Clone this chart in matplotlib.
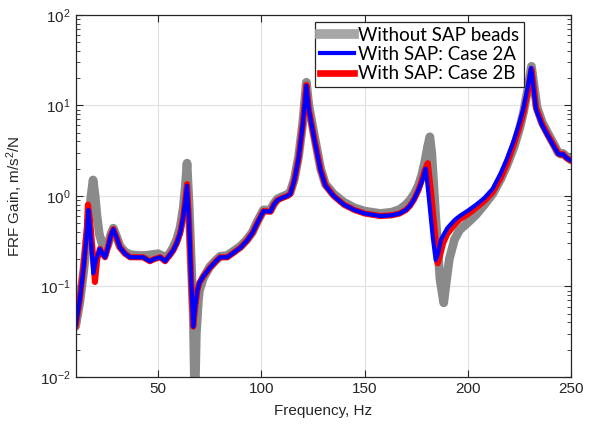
import matplotlib
matplotlib.use('Agg')
import matplotlib.pyplot as plt
from matplotlib.lines import Line2D

# Data
# Without SAP beads
f_gray = [10, 12, 14, 16, 17.5, 18.5, 19.5, 20.4, 21.5, 23, 24.3, 25.7, 27, 28.3, 30, 31.5,
          34, 36.4, 40, 44, 47, 50, 53.4, 55.5, 57.3, 59, 60.7, 62.2, 63.2, 64, 65, 66, 67,
          67.8, 68.5, 69.5, 70, 72, 75, 78, 80, 83.5, 87, 90, 93, 95.7, 98, 101, 104.4, 106,
          107.8, 110, 112.6, 114, 116, 118, 120, 121.8, 123, 125.4, 128.7, 131, 135, 140, 145,
          150, 157.5, 163, 167, 170, 172, 174, 176, 177.5, 179, 180.5, 181.6, 182.5, 183.5,
          184.5, 185.5, 186.5, 188.3, 189.5, 191, 193.5, 196, 200.5, 204, 208, 212, 216, 219,
          222.4, 225, 227, 229, 230.8, 232.3, 233.5, 236, 239, 242, 243.8, 245, 246, 248, 250]
gain_gray = [0.036, 0.065, 0.15, 0.4, 1.0, 1.5, 1.0, 0.6, 0.38, 0.29, 0.26, 0.29, 0.37, 0.44,
             0.35, 0.28, 0.24, 0.225, 0.22, 0.22, 0.225, 0.23, 0.21, 0.23, 0.27, 0.33, 0.45,
             0.75, 1.3, 2.3, 0.8, 0.2, 0.05, 0.005, 0.03, 0.07, 0.09, 0.125, 0.165, 0.195,
             0.215, 0.22, 0.25, 0.28, 0.33, 0.4, 0.52, 0.7, 0.7, 0.82, 0.93, 0.98, 1.04, 1.1,
             1.55, 2.7, 6.3, 18, 10, 5.0, 2.0, 1.35, 1.05, 0.85, 0.74, 0.68, 0.64, 0.66, 0.71,
             0.8, 0.9, 1.05, 1.3, 1.65, 2.3, 3.5, 4.5, 3.0, 1.3, 0.55, 0.25, 0.12, 0.066, 0.11,
             0.2, 0.33, 0.42, 0.52, 0.62, 0.8, 1.05, 1.55, 2.2, 3.5, 5.5, 8.5, 15, 27, 15, 9.5,
             6.5, 4.8, 3.6, 3.0, 2.9, 2.95, 2.7, 2.5]

# With SAP: Case 2A
f_2a = [10, 12, 14, 15.5, 16.2, 17, 18.6, 20, 21.8, 23, 24.3, 25.7, 27, 28.3, 30, 31.5, 34,
        36.4, 40, 42.7, 46, 48, 51, 53.4, 55.5, 57.3, 59, 60.7, 62.2, 63.2, 64, 65, 66, 67,
        68, 69, 70, 72, 75, 78, 80, 83.5, 87, 90, 93, 95.7, 98, 101, 104.4, 106, 107.8, 110,
        112.6, 114, 116, 118, 120, 121.8, 123, 125.4, 128.7, 131, 135, 140, 145, 150, 157.5,
        163, 167, 170, 172, 174, 176, 177.5, 179, 179.6, 181, 183, 184.4, 185.5, 187, 190,
        193.5, 196, 200.5, 204, 208, 212, 216, 219, 222.4, 225, 227, 229, 230.6, 232, 233,
        236, 239, 242, 243.8, 245, 246, 248, 250]
gain_2a = [0.036, 0.07, 0.17, 0.4, 0.7, 0.45, 0.14, 0.2, 0.26, 0.23, 0.21, 0.27, 0.36, 0.43,
           0.34, 0.27, 0.23, 0.21, 0.21, 0.21, 0.19, 0.2, 0.21, 0.19, 0.22, 0.25, 0.3, 0.39,
           0.6, 0.9, 1.3, 0.5, 0.12, 0.036, 0.06, 0.09, 0.11, 0.13, 0.16, 0.19, 0.21, 0.21,
           0.24, 0.27, 0.32, 0.39, 0.5, 0.68, 0.67, 0.8, 0.9, 0.95, 1.0, 1.05, 1.5, 2.6, 6.0,
           16.5, 9.0, 4.5, 1.9, 1.3, 1.0, 0.8, 0.7, 0.64, 0.6, 0.61, 0.64, 0.7, 0.78, 0.92,
           1.15, 1.4, 1.8, 2.0, 1.0, 0.35, 0.196, 0.23, 0.33, 0.44, 0.54, 0.6, 0.7, 0.8, 0.95,
           1.2, 1.8, 2.6, 4.2, 6.5, 9.5, 16, 26, 14, 9.0, 6.0, 4.5, 3.4, 2.9, 2.85, 2.9, 2.6,
           2.45]

# With SAP: Case 2B
f_2b = [10, 12, 14, 15.5, 16, 17, 18.6, 19.4, 20.5, 21.8, 23, 24.3, 25.7, 27, 28.3, 30, 31.5,
        34, 36.4, 40, 42.7, 46, 48, 51, 53.4, 55.5, 57.3, 59, 60.7, 62.2, 63.2, 64, 65, 66,
        67, 68, 69, 70, 72, 75, 78, 80, 83.5, 87, 90, 93, 95.7, 98, 101, 104.4, 106, 107.8,
        110, 112.6, 114, 116, 118, 120, 121.8, 123, 125.4, 128.7, 131, 135, 140, 145, 150,
        157.5, 163, 167, 170, 172, 174, 176, 177.5, 179, 180.6, 182, 184, 185.4, 186.5, 188,
        190, 193.5, 196, 200.5, 204, 208, 212, 216, 219, 222.4, 225, 227, 229, 230.8, 232,
        233, 236, 239, 242, 243.8, 245, 246, 248, 250]
gain_2b = [0.036, 0.07, 0.18, 0.45, 0.8, 0.55, 0.2, 0.112, 0.2, 0.26, 0.23, 0.21, 0.27, 0.36,
           0.43, 0.34, 0.27, 0.23, 0.21, 0.21, 0.21, 0.19, 0.2, 0.21, 0.19, 0.22, 0.25, 0.3,
           0.39, 0.6, 0.92, 1.35, 0.5, 0.12, 0.036, 0.06, 0.09, 0.11, 0.13, 0.16, 0.19, 0.21,
           0.21, 0.24, 0.27, 0.32, 0.39, 0.5, 0.68, 0.67, 0.8, 0.9, 0.95, 1.0, 1.05, 1.5, 2.6,
           6.0, 16.8, 9.0, 4.6, 1.95, 1.32, 1.0, 0.8, 0.7, 0.64, 0.6, 0.61, 0.64, 0.7, 0.78,
           0.92, 1.15, 1.45, 1.9, 2.3, 1.2, 0.4, 0.18, 0.22, 0.3, 0.38, 0.48, 0.55, 0.64, 0.74,
           0.88, 1.1, 1.6, 2.3, 3.8, 5.8, 8.5, 14, 25, 15, 9.5, 6.2, 4.6, 3.5, 2.95, 2.85,
           2.9, 2.6, 2.45]

labels = ['Without SAP beads', 'With SAP: Case 2A', 'With SAP: Case 2B']

plt.rcParams['font.family'] = ['Liberation Sans', 'DejaVu Sans']
plt.rcParams['mathtext.fontset'] = 'custom'
plt.rcParams['mathtext.rm'] = 'Liberation Sans'
plt.rcParams['mathtext.it'] = 'Liberation Sans'

fig = plt.figure(figsize=(5.9, 4.25), dpi=100)
ax = fig.add_axes([0.128, 0.113, 0.840, 0.852])

line_kw = dict(solid_joinstyle='round', solid_capstyle='round')
ax.plot(f_gray, gain_gray, color='#8a8a8a', lw=6.3, **line_kw)
ax.plot(f_2b, gain_2b, color='#ff0000', lw=4.4, **line_kw)
ax.plot(f_2a, gain_2a, color='#0000ff', lw=3.0, **line_kw)

ax.set_yscale('log')
ax.set_xlim(10, 250)
ax.set_ylim(1e-2, 1e2)
ax.set_xticks([50, 100, 150, 200, 250])

ax.grid(True, which='major', color='#e0e0e0', lw=0.8)
ax.set_axisbelow(True)
ax.tick_params(which='both', direction='in', top=True, right=True, colors='#262626',
               labelsize=11)
ax.tick_params(which='major', length=5)
ax.tick_params(which='minor', length=3)
for s in ax.spines.values():
    s.set_color('#262626')
    s.set_linewidth(0.9)

ax.set_xlabel('Frequency, Hz', fontsize=11, color='#262626', labelpad=6)
ax.set_ylabel('FRF Gain, m/s$^2$/N', fontsize=11, color='#262626', labelpad=11)

handles = [Line2D([], [], color='#a6a6a6', lw=7),
           Line2D([], [], color='#0000ff', lw=3),
           Line2D([], [], color='#ff0000', lw=4.8)]
leg = ax.legend(handles, labels, loc='upper right', bbox_to_anchor=(0.905, 0.98),
                borderaxespad=0, fancybox=False, framealpha=1, edgecolor='#262626',
                prop={'family': 'Lato', 'size': 13.5}, handlelength=1.85,
                handletextpad=0.2, labelspacing=0.12, borderpad=0.25)
leg.get_frame().set_linewidth(0.9)

fig.savefig('out.png', dpi=100)
